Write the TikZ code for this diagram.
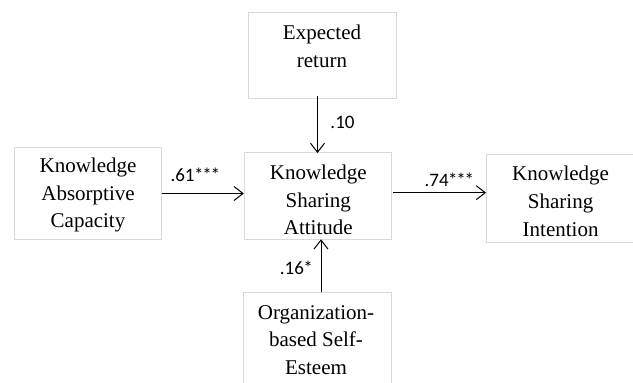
\documentclass[tikz,border=0pt]{standalone}
\usepackage{fontspec}
\setmainfont{Liberation Serif}
\newfontfamily\labfont{Carlito}
\usetikzlibrary{arrows.meta}
\newcommand{\stars}[1]{\foreach \i in {1,...,#1}{\kern-0.6pt*\kern-0.6pt}}
\begin{document}
\begin{tikzpicture}[x=1pt,y=-1pt,
  boxstyle/.style={draw=black!15, line width=0.9pt, inner sep=0pt},
  boxtext/.style={align=center, font=\fontsize{21}{27.7}\selectfont, inner sep=0pt},
  lab/.style={font=\labfont\fontsize{19}{20}\selectfont, inner sep=0pt},
  conn/.style={line width=1pt, -{Straight Barb[length=9pt,width=14pt,line width=1pt]}}]
\useasboundingbox[fill=white] (0,0) rectangle (633,383);
% boxes
\node[boxstyle, minimum width=148pt, minimum height=86pt] (er) at (322.3,55.5) {};
\node[boxstyle, minimum width=147pt, minimum height=92pt] (kac) at (88,193.5) {};
\node[boxstyle, minimum width=147.5pt, minimum height=87pt] (ksa) at (318,196) {};
\node[boxstyle, minimum width=148pt, minimum height=88pt] (ksi) at (560.5,198.5) {};
\node[boxstyle, minimum width=147.5pt, minimum height=120pt] (ose) at (317.3,352.7) {};
% texts
\node[boxtext] (ert) at (322,46) {Expected\\return};
\node[boxtext] (kact) at (88,195) {Knowledge\\Absorptive\\Capacity};
\node[boxtext] (ksat) at (318.3,200) {Knowledge\\Sharing\\Attitude};
\node[boxtext] (ksit) at (560.6,201.3) {Knowledge\\Sharing\\Intention};
\node[boxtext] (oset) at (316,340) {Organization-\\based Self-\\Esteem};
% connectors
\draw[conn] ([xshift=-4.8pt,yshift=2.7pt]er.south) -- ([xshift=-0.5pt,yshift=-1pt]ksa.north);
\draw[conn] (kac.east) -- (kac.east -| ksa.west);
\draw[conn] ([xshift=1pt,yshift=3.3pt]ksa.east) -- ([yshift=3.3pt]ksa.east -| ksi.west);
\draw[conn] ([xshift=3.7pt]ose.north) -- ([xshift=3pt,yshift=0.7pt]ksa.south);
% labels
\node[lab] (l10) at (342.5,122.3) {.10};
\node[lab] (l61) at (195,175) {.61\stars{3}};
\node[lab] (l74) at (449,180) {.74\stars{3}};
\node[lab] (l16) at (296,268.3) {.16\stars{1}};
\end{tikzpicture}
\end{document}
